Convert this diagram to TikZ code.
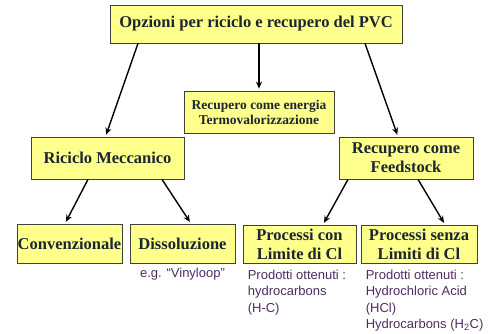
\documentclass[tikz,border=0pt]{standalone}
\usepackage{fontspec}
\setmainfont{Liberation Serif}
\newfontfamily\notefont{Liberation Sans}
\usepackage{xcolor}
\usetikzlibrary{arrows.meta,positioning}
\definecolor{boxfill}{HTML}{FFFF8C}
\definecolor{boxtext}{HTML}{1C2630}
\definecolor{notetext}{HTML}{4E2C62}

\begin{document}
\begin{tikzpicture}[x=1pt,y=-1pt,
		box/.style={draw=black!75,line width=0.8pt,fill=boxfill,text=boxtext,
			font=\bfseries\fontsize{16.5}{19}\selectfont,align=center,inner sep=0pt},
		note/.style={text=notetext,font=\notefont\fontsize{13}{16.5}\selectfont,
			align=left,inner sep=0pt},
		link/.style={line width=1.4pt,-{Stealth[length=7pt,width=6pt]},shorten >=2pt}]
	\useasboundingbox (0,0) rectangle (499,334);
	% boxes
	\node[box,minimum width=292pt,minimum height=38pt] (pvc) at (256,24) {Opzioni per riciclo e recupero del PVC};
	\node[box,minimum width=150pt,minimum height=42pt,font=\bfseries\fontsize{13.5}{15}\selectfont] (energia) at (259,112) {Recupero come energia\\Termovalorizzazione};
	\node[box,minimum width=153pt,minimum height=42pt] (meccanico) at (107.5,158) {Riciclo Meccanico};
	\node[box,minimum width=134pt,minimum height=42pt] (feedstock) at (406,158) {Recupero come\\Feedstock};
	\node[box,minimum width=105pt,minimum height=39pt] (conv) at (69.5,243.5) {Convenzionale};
	\node[box,minimum width=105pt,minimum height=39pt] (diss) at (182.5,243.5) {Dissoluzione};
	\node[box,minimum width=113pt,minimum height=38pt] (pcon) at (299.5,244) {Processi con\\Limite di Cl};
	\node[box,minimum width=116pt,minimum height=38pt] (psenza) at (419,244) {Processi senza\\Limiti di Cl};
	% notes
	\node[note,below=4pt of diss] (vinyl) {e.g. “Vinyloop”};
	\node[note,anchor=north west] (hc) at ([xshift=5pt,yshift=-6pt]pcon.south west) {Prodotti ottenuti :\\hydrocarbons\\(H-C)};
	\node[note,anchor=north west] (hcl) at ([xshift=5pt,yshift=-6pt]psenza.south west) {Prodotti ottenuti :\\Hydrochloric Acid\\(HCl)\\Hydrocarbons (H\textsubscript{2}C)};
	% arrows
	\draw[link] ([xshift=-118pt]pvc.south) -- ([xshift=-2pt]meccanico.north);
	\draw[link] (energia.north |- pvc.south) -- (energia.north);
	\draw[link] ([xshift=109pt]pvc.south) -- ([xshift=-8pt]feedstock.north);
	\draw[link] ([xshift=-19.5pt]meccanico.south) -- ([xshift=-4.5pt]conv.north);
	\draw[link] ([xshift=54.5pt]meccanico.south) -- ([xshift=8.5pt]diss.north);
	\draw[link] ([xshift=-58pt]feedstock.south) -- ([xshift=23.5pt]pcon.north);
	\draw[link] ([xshift=12pt]feedstock.south) -- ([xshift=26pt]psenza.north);
\end{tikzpicture}
\end{document}
